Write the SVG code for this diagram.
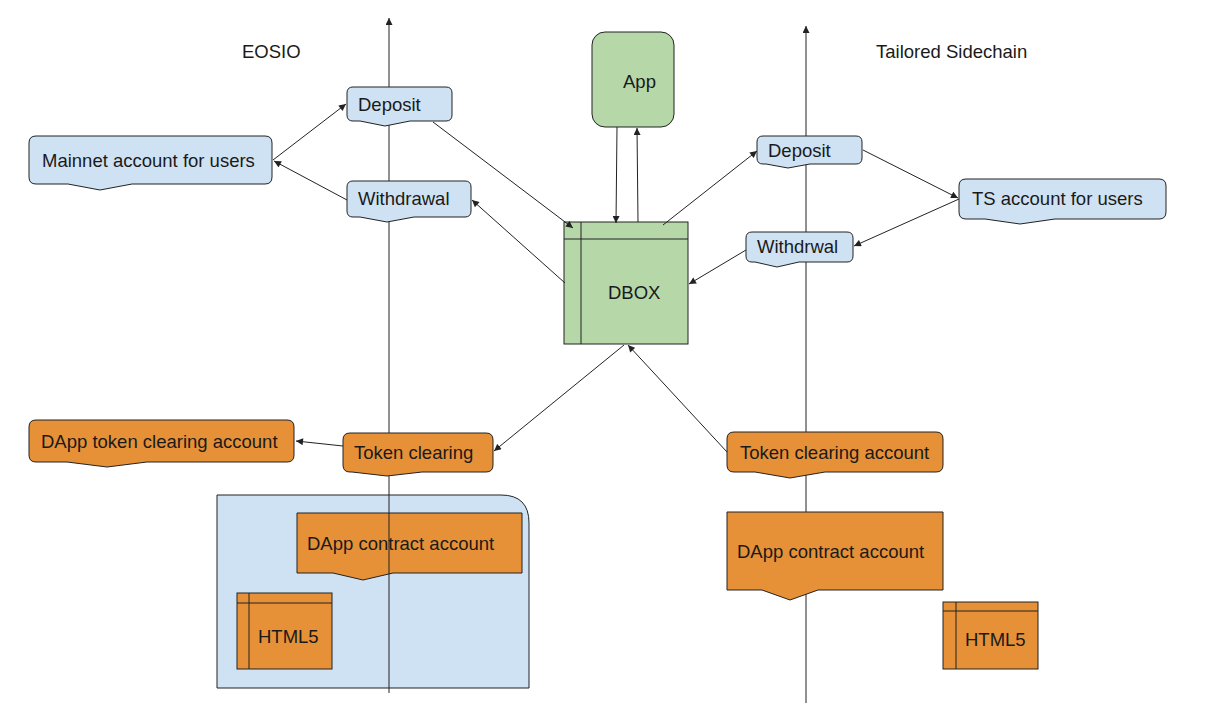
<svg xmlns="http://www.w3.org/2000/svg" width="1210" height="721" viewBox="0 0 1210 721">
<defs>
<style>
text{font-family:"Liberation Sans",Arial,sans-serif;font-size:18.5px;fill:#1a1a1a}
.blue{fill:#cfe2f3;stroke:#222;stroke-width:1}
.green{fill:#b6d7a8;stroke:#222;stroke-width:1}
.orange{fill:#e69138;stroke:#222;stroke-width:1}
.ln{fill:none;stroke:#222;stroke-width:1}
.arr{fill:none;stroke:#222;stroke-width:1;marker-end:url(#ah)}
</style>
<marker id="ah" viewBox="0 0 10 10" refX="10" refY="5" markerWidth="8" markerHeight="7" markerUnits="userSpaceOnUse" orient="auto">
<path d="M0,0 L10,5 L0,10 Z" fill="#222"/>
</marker>
</defs>
<rect width="1210" height="721" fill="#fff"/>

<g id="container">
<path class="blue" d="M217,495 H501 Q529,495 529,523 V688 H217 Z"/>
</g>
<g id="dapp-contract-left">
<path class="orange" d="M297,513 H522 V573 H393 L363,580 L333,573 H297 Z"/>
<text x="307" y="550">DApp contract account</text>
</g>
<g id="html5-left">
<rect class="orange" x="237" y="593" width="95" height="76"/>
<path class="ln" d="M237,603 H332 M249,593 V669"/>
<text x="258" y="643">HTML5</text>
</g>

<g id="axes">
<path class="arr" d="M389,693 V18"/>
<path class="arr" d="M806,703 V26"/>
</g>

<g id="labels">
<text x="242" y="58">EOSIO</text>
<text x="876" y="58">Tailored Sidechain</text>
</g>

<g id="mainnet">
<path class="blue" d="M36,136 H265 Q272,136 272,143 V177 Q272,184 265,184 H132 L100,190 L68,184 H36 Q29,184 29,177 V143 Q29,136 36,136 Z"/>
<text x="42" y="167">Mainnet account for users</text>
</g>
<g id="deposit-left">
<path class="blue" d="M353,87 H446 Q452,87 452,93 V115 Q452,121 446,121 H410 L385,126 L360,121 H353 Q347,121 347,115 V93 Q347,87 353,87 Z"/>
<text x="358" y="111">Deposit</text>
</g>
<g id="withdrawal-left">
<path class="blue" d="M353,181 H465 Q471,181 471,187 V211 Q471,217 465,217 H414 L387,222 L360,217 H353 Q347,217 347,211 V187 Q347,181 353,181 Z"/>
<text x="358" y="205">Withdrawal</text>
</g>
<g id="app">
<rect class="green" x="592" y="32" width="82" height="95" rx="13"/>
<text x="623" y="88">App</text>
</g>
<g id="dbox">
<rect class="green" x="564" y="222" width="124" height="122"/>
<path class="ln" d="M564,239 H688 M581,222 V344"/>
<text x="608" y="299">DBOX</text>
</g>
<g id="deposit-right">
<path class="blue" d="M763,136 H856 Q862,136 862,142 V158 Q862,164 856,164 H810 L788,168 L766,164 H763 Q757,164 757,158 V142 Q757,136 763,136 Z"/>
<text x="768" y="157">Deposit</text>
</g>
<g id="withdrwal-right">
<path class="blue" d="M752,232 H847 Q853,232 853,238 V256 Q853,262 847,262 H799 L777,267 L755,262 H752 Q746,262 746,256 V238 Q746,232 752,232 Z"/>
<text x="757" y="253">Withdrwal</text>
</g>
<g id="ts-account">
<path class="blue" d="M966,179 H1159 Q1166,179 1166,186 V212 Q1166,219 1159,219 H1055 L1020,224 L985,219 H966 Q959,219 959,212 V186 Q959,179 966,179 Z"/>
<text x="972" y="205">TS account for users</text>
</g>
<g id="dapp-token-clearing">
<path class="orange" d="M36,420 H287 Q294,420 294,427 V455 Q294,462 287,462 H147 L107,467 L67,462 H36 Q29,462 29,455 V427 Q29,420 36,420 Z"/>
<text x="41" y="448">DApp token clearing account</text>
</g>
<g id="token-clearing">
<path class="orange" d="M350,433 H486 Q493,433 493,440 V465 Q493,472 486,472 H422 L387,476 L352,472 H350 Q343,472 343,465 V440 Q343,433 350,433 Z"/>
<text x="354" y="459">Token clearing</text>
</g>
<g id="token-clearing-account">
<path class="orange" d="M734,432 H936 Q943,432 943,439 V465 Q943,472 936,472 H825 L790,478 L755,472 H734 Q727,472 727,465 V439 Q727,432 734,432 Z"/>
<text x="740" y="459">Token clearing account</text>
</g>
<g id="dapp-contract-right">
<path class="orange" d="M727,512 H943 V590 H818 L790,600 L762,590 H727 Z"/>
<text x="737" y="558">DApp contract account</text>
</g>
<g id="html5-right">
<rect class="orange" x="943" y="602" width="95" height="67"/>
<path class="ln" d="M943,611 H1038 M956,602 V669"/>
<text x="965" y="646">HTML5</text>
</g>

<g id="connectors">
<path class="arr" d="M273,160 L346,104"/>
<path class="arr" d="M347,200 L274,161"/>
<path class="arr" d="M433,122 L573,228"/>
<path class="arr" d="M565,283 L472,200"/>
<path class="arr" d="M617,127 L616,223"/>
<path class="arr" d="M638,222 L637,128"/>
<path class="arr" d="M663,225 L757,151"/>
<path class="arr" d="M863,150 L958,198"/>
<path class="arr" d="M959,199 L854,246"/>
<path class="arr" d="M746,250 L689,284"/>
<path class="arr" d="M624,345 L494,451"/>
<path class="arr" d="M343,446 L296,441"/>
<path class="arr" d="M727,452 L628,345"/>
</g>
</svg>
